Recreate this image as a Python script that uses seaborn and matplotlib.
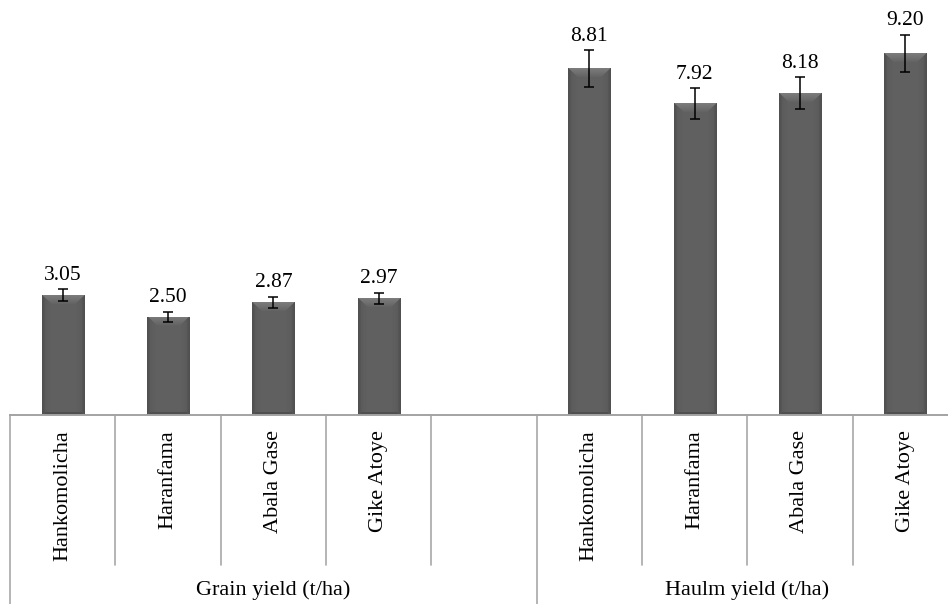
import numpy as np
import pandas as pd
import matplotlib
matplotlib.use("Agg")
import matplotlib.pyplot as plt
import seaborn as sns
from matplotlib.transforms import blended_transform_factory

# Yields (t/ha) and standard errors per variety
varieties = ["Hankomolicha", "Haranfama", "Abala Gase", "Gike Atoye"]
traits = ["Grain yield (t/ha)", "Haulm yield (t/ha)"]
grain_yield = [3.05, 2.50, 2.87, 2.97]
grain_err = [0.16, 0.13, 0.14, 0.14]
haulm_yield = [8.81, 7.92, 8.18, 9.20]
haulm_err = [0.46, 0.39, 0.41, 0.47]

rows = []
for trait, vals, errs in [(traits[0], grain_yield, grain_err),
                          (traits[1], haulm_yield, haulm_err)]:
    for v, y, e in zip(varieties, vals, errs):
        rows.append({"slot": f"{trait}|{v}", "trait": trait, "variety": v,
                     "yield": y, "err": e})
df = pd.DataFrame(rows)

# one empty slot closes the grain group
order = ([f"{traits[0]}|{v}" for v in varieties] + [f"{traits[0]}|"] +
         [f"{traits[1]}|{v}" for v in varieties])
df["pos"] = [order.index(s) for s in df["slot"]]

sns.set_theme(style="white")
plt.rcParams["font.family"] = ["Liberation Serif", "DejaVu Serif"]

W_PX, H_PX = 948, 604
fig = plt.figure(figsize=(W_PX / 100, H_PX / 100), dpi=100)
base_px = 415
ax = fig.add_axes([10 / W_PX, (H_PX - base_px) / H_PX, 948 / W_PX, base_px / H_PX])

sns.barplot(data=df, x="slot", y="yield", order=order, width=0.4,
            color="#5b5b5b", saturation=1, errorbar=None, ax=ax,
            edgecolor="#8a8a8a", linewidth=0.5)

YMAX = 10.55
ax.set_xlim(-0.5, 8.5)
ax.set_ylim(0, YMAX)

# bevelled shading on each bar
px_per_unit = base_px / YMAX
px_per_slot = 948 / 9
for patch in list(ax.patches):
    x0, w, h = patch.get_x(), patch.get_width(), patch.get_height()
    if not np.isfinite(h) or h <= 0:
        continue
    Wp = max(int(round(w * px_per_slot)), 4)
    Hp = max(int(round(h * px_per_unit)), 4)
    xs = np.arange(Wp) + 0.5
    ys = np.arange(Hp) + 0.5
    X, Y = np.meshgrid(xs, ys)
    d_side = np.minimum(X, Wp - X)
    d_top = Y
    d_bot = Hp - Y
    val = 0.35 + 0.03 * np.clip(d_side / 10, 0, 1)
    side = (d_side < 3.5) & (d_side < d_top)
    val = np.where(side, 0.31 + 0.01 * d_side, val)
    bevel = (d_top < 9) & (d_side > d_top)
    val = np.where(bevel, 0.49 - 0.10 * d_top / 9, val)
    val = np.where((d_bot < 3) & ~side, 0.31, val)
    img = np.dstack([val, val, val])
    im = ax.imshow(img, extent=[x0, x0 + w, 0, h], aspect="auto",
                   origin="upper", zorder=patch.get_zorder() + 0.1,
                   interpolation="bilinear")
    im.set_clip_path(patch)

ax.set_xlim(-0.5, 8.5)
ax.set_ylim(0, YMAX)

# error bars and value labels
ax.errorbar(df["pos"], df["yield"], yerr=df["err"], fmt="none",
            ecolor="black", elinewidth=1.1, capsize=3.8, capthick=1.1,
            zorder=5)
for _, r in df.iterrows():
    ax.annotate(f"{r['yield']:.2f}", (r["pos"], r["yield"] + r["err"]),
                xytext=(0, 3), textcoords="offset points",
                ha="center", va="bottom", fontsize=15.5, color="black")

# multi-level category axis
for s in ["top", "right", "left"]:
    ax.spines[s].set_visible(False)
ax.spines["bottom"].set_color("#a3a3a3")
ax.spines["bottom"].set_linewidth(1.4)
ax.set_xticks([])
ax.set_yticks([])
ax.set_xlabel("")
ax.set_ylabel("")

blend = blended_transform_factory(ax.transData, fig.transFigure)
y_base = (H_PX - base_px) / H_PX
y_short = (H_PX - 565) / H_PX
sep_kw = dict(color="#a8a8a8", lw=1.2, transform=blend, clip_on=False)
for b in [0.5, 1.5, 2.5, 3.5, 5.5, 6.5, 7.5]:
    ax.plot([b, b], [y_base, y_short], **sep_kw)
for b in [-0.5, 4.5, 8.5]:
    ax.plot([b, b], [y_base, 0], **sep_kw)

y_lab = (H_PX - 430) / H_PX
for _, r in df.iterrows():
    ax.text(r["pos"], y_lab, r["variety"], transform=blend, rotation=90,
            ha="center", va="top", fontsize=16, color="black")

y_grp = (H_PX - 590) / H_PX
ax.text(2.0, y_grp, traits[0], transform=blend, ha="center", va="center",
        fontsize=16, color="black")
ax.text(6.5, y_grp, traits[1], transform=blend, ha="center", va="center",
        fontsize=16, color="black")

fig.savefig("out.png", dpi=100)
